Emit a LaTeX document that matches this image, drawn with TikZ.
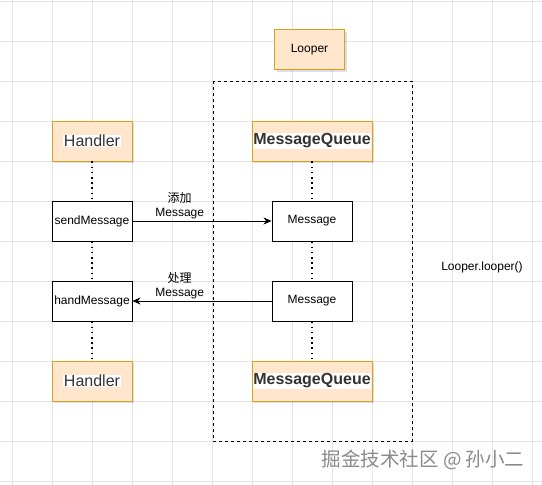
\documentclass[tikz,border=0pt]{standalone}
\usepackage{fontspec}
\setmainfont{Liberation Sans}
\newfontfamily\cjk{Noto Sans CJK SC}
\usepackage{tikz}
\usetikzlibrary{positioning,arrows.meta,shadows}

\definecolor{boxfill}{HTML}{FFE6CC}
\definecolor{boxline}{HTML}{D6A21E}
\definecolor{gridline}{HTML}{E4E4E4}
\definecolor{marktext}{HTML}{8A8A8A}
\definecolor{boxtext}{HTML}{333333}

\newcommand{\whitebg}[1]{{\setlength{\fboxsep}{0.6pt}\colorbox{white}{#1}}}

\tikzset{
  orangebox/.style={draw=boxline, fill=boxfill, line width=0.9pt, minimum height=40pt, inner sep=0pt,
    text=boxtext, drop shadow={shadow xshift=2pt, shadow yshift=-2pt, opacity=0.25}},
  msgbox/.style={draw=black, fill=white, line width=0.9pt, minimum width=80pt, minimum height=40pt,
    inner sep=0pt, font=\fontsize{12}{14}\selectfont},
  lifeline/.style={black, line width=1.6pt, dash pattern=on 1.6pt off 3.6pt},
  msgarrow/.style={black, line width=0.9pt, -{Stealth[length=8pt, width=7pt, inset=2.5pt]}},
  arrowlabel/.style={align=center, font=\fontsize{12}{14}\selectfont, inner sep=1pt}
}

\begin{document}
\begin{tikzpicture}[x=1pt, y=-1pt]
    \useasboundingbox (0,0) rectangle (542,485);
    % background grid
    \foreach \gx in {12,52,...,532} \draw[gridline, line width=0.6pt] (\gx,0) -- (\gx,485);
    \foreach \gy in {1,41,...,481} \draw[gridline, line width=0.6pt] (0,\gy) -- (542,\gy);

    % looper frame
    \draw[black, line width=0.9pt, dash pattern=on 3pt off 3pt] (213,81) rectangle (412,441);

    \node[orangebox, minimum width=70pt, text=black, font=\fontsize{12}{14}\selectfont] (looper) at (309.5,49.5) {Looper};

    % left column
    \node[orangebox, minimum width=80pt, font=\fontsize{16}{19}\selectfont] (handlerTop) at (92,141) {\whitebg{Handler}};
    \node[msgbox] (send) at (92,221) {sendMessage};
    \node[msgbox] (hand) at (92,301) {handMessage};
    \node[orangebox, minimum width=80pt, font=\fontsize{16}{19}\selectfont] (handlerBot) at (92,381) {\whitebg{Handler}};

    % right column
    \node[orangebox, minimum width=120pt, font=\bfseries\fontsize{16}{19}\selectfont] (queueTop) at (312,141) {\whitebg{MessageQueue}};
    \node[msgbox] (msgA) at (312,221) {Message};
    \node[msgbox] (msgB) at (312,301) {Message};
    \node[orangebox, minimum width=120pt, font=\bfseries\fontsize{16}{19}\selectfont] (queueBot) at (312,381) {\whitebg{MessageQueue}};

    % dotted lifelines
    \draw[lifeline] (handlerTop.south) -- (send.north);
    \draw[lifeline] (send.south) -- (hand.north);
    \draw[lifeline] (hand.south) -- (handlerBot.north);
    \draw[lifeline] (queueTop.south) -- (msgA.north);
    \draw[lifeline] (msgA.south) -- (msgB.north);
    \draw[lifeline] (msgB.south) -- (queueBot.north);

    % messages
    \draw[msgarrow] (send.east) -- node[pos=0.34, above=1pt, arrowlabel] {{\cjk 添加}\\Message} (msgA.west);
    \draw[msgarrow] (msgB.west) -- node[pos=0.66, above=1pt, arrowlabel] {{\cjk 处理}\\Message} (hand.east);

    \node[font=\fontsize{12}{14}\selectfont] (loopcall) at (482,267) {Looper.looper()};

    \node[font=\cjk\fontsize{19.5}{22}\selectfont, text=marktext] (mark) at (423,460) {掘金技术社区 @ 孙小二};
\end{tikzpicture}
\end{document}
